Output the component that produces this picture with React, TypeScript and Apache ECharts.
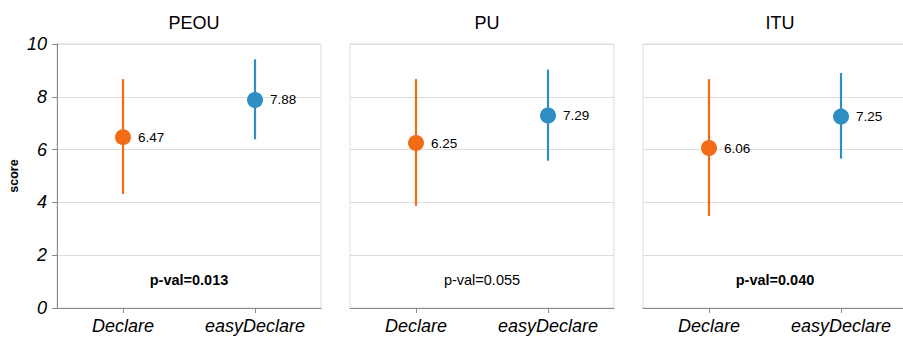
import React, { useEffect, useRef } from "react";
import * as echarts from "echarts";

const panels = ["PEOU", "PU", "ITU"];
const categories = ["Declare", "easyDeclare"];
const means = [
  [6.47, 7.88],
  [6.25, 7.29],
  [6.06, 7.25],
];
const ciLow = [
  [4.32, 6.39],
  [3.87, 5.58],
  [3.48, 5.66],
];
const ciHigh = [
  [8.67, 9.42],
  [8.67, 9.03],
  [8.67, 8.9],
];
const pvals = ["p-val=0.013", "p-val=0.055", "p-val=0.040"];
const pBold = [true, false, true];
const yTicks = { min: 0, max: 10, interval: 2 };

const colors = ["#f26c18", "#2e8dc2"];
const FONT = "'Liberation Sans', Arial, Helvetica, sans-serif";

const GRID_LEFT = [57, 350, 643];
const GRID_TOP = 44;
const GRID_W = 264;
const GRID_H = 264;

export default function App() {
  const ref = useRef<HTMLDivElement>(null);
  useEffect(() => {
    document.body.style.margin = "0";
    const chart = echarts.init(ref.current!, null, { renderer: "svg" });
    const grids: any[] = [];
    const xAxes: any[] = [];
    const yAxes: any[] = [];
    const series: any[] = [];
    const titles: any[] = [];
    const graphics: any[] = [];
    panels.forEach((p, i) => {
      grids.push({
        left: GRID_LEFT[i],
        top: GRID_TOP,
        width: GRID_W,
        height: GRID_H,
        show: true,
        borderColor: "#dddddd",
        borderWidth: 1,
        containLabel: false,
        outerBoundsMode: "none",
      });
      xAxes.push({
        type: "category",
        gridIndex: i,
        data: categories,
        boundaryGap: true,
        axisLine: { show: true, lineStyle: { color: "#888888", width: 1 } },
        axisTick: { show: true, alignWithLabel: true, interval: 0, length: 5, lineStyle: { color: "#888888" } },
        axisLabel: {
          interval: 0,
          showMinLabel: true,
          showMaxLabel: true,
          hideOverlap: false,
          fontFamily: FONT,
          fontSize: 18,
          fontStyle: "italic",
          color: "#000000",
          margin: 9,
        },
        splitLine: { show: false },
      });
      yAxes.push({
        type: "value",
        gridIndex: i,
        min: yTicks.min,
        max: yTicks.max,
        interval: yTicks.interval,
        name: i === 0 ? "score" : "",
        nameLocation: "middle",
        nameRotate: 90,
        nameGap: 37,
        nameTextStyle: { fontFamily: FONT, fontSize: 12.5, fontWeight: "bold", color: "#000000" },
        axisLine: { show: i === 0, lineStyle: { color: "#888888", width: 1 } },
        axisTick: { show: i === 0, length: 5, lineStyle: { color: "#888888" } },
        axisLabel: {
          show: i === 0,
          fontFamily: FONT,
          fontSize: 18,
          fontStyle: "italic",
          color: "#000000",
          margin: 10,
        },
        splitLine: { show: true, lineStyle: { color: "#dddddd", width: 1 } },
      });
      series.push({
        type: "custom",
        xAxisIndex: i,
        yAxisIndex: i,
        data: categories.map((_, j) => [j, ciLow[i][j], ciHigh[i][j]]),
        renderItem: (params: any, api: any) => {
          const x = api.value(0);
          const lo = api.coord([x, api.value(1)]);
          const hi = api.coord([x, api.value(2)]);
          return {
            type: "line",
            shape: { x1: lo[0], y1: lo[1], x2: hi[0], y2: hi[1] },
            style: { stroke: colors[params.dataIndex], lineWidth: 2.2 },
          };
        },
        z: 2,
      });
      series.push({
        type: "scatter",
        xAxisIndex: i,
        yAxisIndex: i,
        symbol: "circle",
        symbolSize: 16,
        data: categories.map((_, j) => ({
          value: [j, means[i][j]],
          itemStyle: { color: colors[j], opacity: 1 },
        })),
        label: {
          show: true,
          position: "right",
          distance: 7,
          formatter: (d: any) => d.value[1].toFixed(2),
          fontFamily: FONT,
          fontSize: 13.5,
          color: "#000000",
        },
        z: 3,
      });
      titles.push({
        text: p,
        left: GRID_LEFT[i] + GRID_W / 2,
        top: 9,
        textAlign: "center",
        textStyle: { fontFamily: FONT, fontSize: 18, fontWeight: "normal", color: "#000000" },
      });
      graphics.push({
        type: "text",
        x: GRID_LEFT[i] + GRID_W / 2,
        y: 280,
        style: {
          text: pvals[i],
          fontFamily: FONT,
          fontSize: 14.5,
          fontWeight: pBold[i] ? "bold" : "normal",
          fill: "#000000",
          align: "center",
          verticalAlign: "middle",
        },
      });
    });
    chart.setOption({
      animation: false,
      backgroundColor: "#ffffff",
      title: titles,
      grid: grids,
      xAxis: xAxes,
      yAxis: yAxes,
      series,
      graphic: graphics,
    });
    return () => chart.dispose();
  }, []);
  return <div ref={ref} style={{ width: 903, height: 338 }} />;
}
